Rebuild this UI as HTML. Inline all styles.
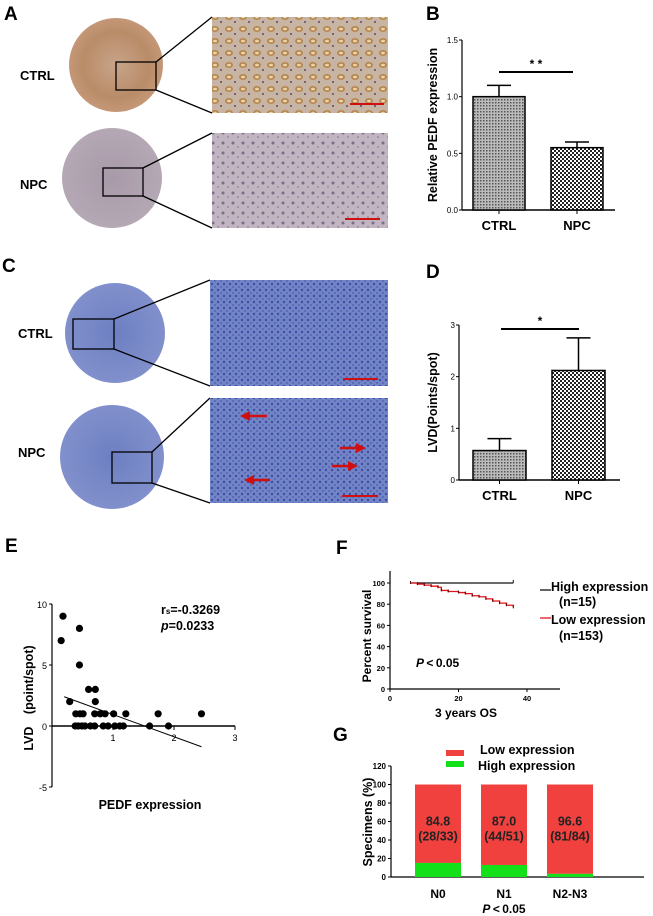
<!DOCTYPE html>
<html><head><meta charset="utf-8">
<style>
html,body{margin:0;padding:0;background:#fff;}
svg{display:block;font-family:"Liberation Sans",Arial,sans-serif;}
.b{font-weight:bold;}
</style></head>
<body>
<svg id="fig" width="653" height="916" viewBox="0 0 653 916" xmlns="http://www.w3.org/2000/svg">
<defs>
<pattern id="pCtrl" width="3" height="3" patternUnits="userSpaceOnUse"><rect width="3" height="3" fill="#bbb"/><rect width="1.5" height="1.5" fill="#555"/></pattern>
<pattern id="pNpc" width="4" height="4" patternUnits="userSpaceOnUse"><rect width="4" height="4" fill="#fff"/><rect width="2" height="2" fill="#222"/><rect x="2" y="2" width="2" height="2" fill="#222"/></pattern>
<radialGradient id="gBrown"><stop offset="0" stop-color="#c8a48a"/><stop offset="0.7" stop-color="#b98c68"/><stop offset="1" stop-color="#c49877"/></radialGradient>
<radialGradient id="gGray"><stop offset="0" stop-color="#a89aa8"/><stop offset="1" stop-color="#b5a8b5"/></radialGradient>
<radialGradient id="gBlue"><stop offset="0" stop-color="#6d7fc2"/><stop offset="1" stop-color="#8190cc"/></radialGradient>
<pattern id="tBrown" width="14" height="12" patternUnits="userSpaceOnUse"><rect width="14" height="12" fill="#c8b4a2"/><ellipse cx="5" cy="5" rx="4" ry="3" fill="#b88650"/><ellipse cx="5" cy="5" rx="2" ry="1.3" fill="#e8d5a8"/><circle cx="11" cy="10" r="1" fill="#5a4a6a"/></pattern>
<pattern id="tGray" width="10" height="10" patternUnits="userSpaceOnUse"><rect width="10" height="10" fill="#c2b5c2"/><circle cx="3" cy="3" r="1.5" fill="#7d6d87"/><circle cx="8" cy="7" r="1" fill="#9a8aa0"/></pattern>
<pattern id="tBlue" width="6" height="6" patternUnits="userSpaceOnUse"><rect width="6" height="6" fill="#7283c6"/><circle cx="2" cy="2" r="1.2" fill="#3a4ea8"/><circle cx="5" cy="5" r="0.9" fill="#4a5db0"/></pattern>
</defs>

<!-- Panel A -->
<g>
<text x="4" y="20" class="b" font-size="19">A</text>
<text x="20" y="80" class="b" font-size="13">CTRL</text>
<text x="20" y="189" class="b" font-size="13">NPC</text>
<circle cx="116" cy="65" r="47" fill="url(#gBrown)"/>
<rect x="116" y="62" width="40" height="28" fill="none" stroke="#000" stroke-width="1.3"/>
<line x1="156" y1="62" x2="212" y2="17" stroke="#000" stroke-width="1.3"/><line x1="156" y1="90" x2="212" y2="113" stroke="#000" stroke-width="1.3"/>
<rect x="212" y="17" width="176" height="96" fill="url(#tBrown)"/>
<line x1="350" y1="104" x2="384" y2="104" stroke="#d01010" stroke-width="2"/>
<circle cx="112" cy="178" r="50" fill="url(#gGray)"/>
<rect x="103" y="168" width="40" height="28" fill="none" stroke="#000" stroke-width="1.3"/>
<line x1="143" y1="168" x2="212" y2="133" stroke="#000" stroke-width="1.3"/><line x1="143" y1="196" x2="212" y2="228" stroke="#000" stroke-width="1.3"/>
<rect x="212" y="133" width="176" height="95" fill="url(#tGray)"/>
<line x1="345" y1="219" x2="380" y2="219" stroke="#d01010" stroke-width="2"/>
</g>

<!-- Panel C -->
<g>
<text x="2" y="272" class="b" font-size="19">C</text>
<text x="18" y="338" class="b" font-size="13">CTRL</text>
<text x="18" y="457" class="b" font-size="13">NPC</text>
<circle cx="115" cy="333" r="50" fill="url(#gBlue)"/>
<rect x="73" y="319" width="41" height="30" fill="none" stroke="#000" stroke-width="1.3"/>
<line x1="114" y1="319" x2="210" y2="280" stroke="#000" stroke-width="1.3"/><line x1="114" y1="349" x2="210" y2="386" stroke="#000" stroke-width="1.3"/>
<rect x="210" y="280" width="178" height="106" fill="url(#tBlue)"/>
<line x1="343" y1="379" x2="378" y2="379" stroke="#d01010" stroke-width="2"/>
<circle cx="112" cy="457" r="52" fill="url(#gBlue)"/>
<rect x="112" y="452" width="40" height="31" fill="none" stroke="#000" stroke-width="1.3"/>
<line x1="152" y1="452" x2="210" y2="398" stroke="#000" stroke-width="1.3"/><line x1="152" y1="483" x2="210" y2="503" stroke="#000" stroke-width="1.3"/>
<rect x="210" y="398" width="178" height="105" fill="url(#tBlue)"/>
<g fill="#d01010" stroke="#d01010" stroke-width="2.5">
<line x1="267" y1="416" x2="248" y2="416"/><polygon points="240,416 250,411 250,421" stroke="none"/>
<line x1="270" y1="480" x2="252" y2="480"/><polygon points="244,480 254,475 254,485" stroke="none"/>
<line x1="340" y1="448" x2="358" y2="448"/><polygon points="366,448 356,443 356,453" stroke="none"/>
<line x1="332" y1="466" x2="350" y2="466"/><polygon points="358,466 348,461 348,471" stroke="none"/>
</g>
<line x1="342" y1="496" x2="378" y2="496" stroke="#d01010" stroke-width="2"/>
</g>

<g id="charts"></g>
</svg>
<script>
// ---- Panel B data ----
const bCategories = ["CTRL", "NPC"];
const bValues = [1.0, 0.55];
const bErrors = [1.1, 0.6];
const bTicks = [0.0, 0.5, 1.0, 1.5];
// ---- Panel D data ----
const dCategories = ["CTRL", "NPC"];
const dValues = [0.57, 2.12];
const dErrors = [0.8, 2.75];
const dTicks = [0, 1, 2, 3];
// ---- Panel E data ----
const eX = [0.15,0.18,0.45,0.45,0.29,0.6,0.71,0.71,0.39,0.46,0.51,0.70,0.79,0.87,1.01,1.21,1.74,2.45,0.38,0.43,0.49,0.54,0.63,0.70,0.84,0.92,1.03,1.11,1.17,1.6,1.91];
const eY = [7,9,8,5,2,3,3,2,1,1,1,1,1,1,1,1,1,1,0,0,0,0,0,0,0,0,0,0,0,0,0];
const eFitX = [0.2, 2.45];
const eFitY = [2.4, -1.7];
const eXTicks = [1, 2, 3];
const eYTicks = [-5, 0, 5, 10];
// ---- Panel F data ----
const fHighT = [6, 36];
const fHighS = [100, 100];
const fLowT = [6,8,10,12,14,15,17,20,22,24,26,28,30,32,34,36];
const fLowS = [100,99,98,97,96,93,92,91,90,88,87,85,83,81,79,77];
const fXTicks = [0, 20, 40];
const fYTicks = [0, 20, 40, 60, 80, 100];
// ---- Panel G data ----
const gCategories = ["N0", "N1", "N2-N3"];
const gHigh = [15.2, 13.0, 3.4];
const gLow = [84.8, 87.0, 96.6];
const gLabels = ["(28/33)", "(44/51)", "(81/84)"];
const gYTicks = [0, 20, 40, 60, 80, 100, 120];

const NS = "http://www.w3.org/2000/svg";
const root = document.getElementById("charts");
function mk(tag, attrs, parent, text) {
  const e = document.createElementNS(NS, tag);
  for (const k in attrs) e.setAttribute(k, attrs[k]);
  if (text !== undefined) e.textContent = text;
  (parent || root).appendChild(e);
  return e;
}
function lin(d0, d1, r0, r1) { return v => r0 + (v - d0) * (r1 - r0) / (d1 - d0); }

// Bar chart (B, D)
function barPanel(o) {
  const g = mk("g", {});
  
  
  const y = lin(o.ymin, o.ymax, o.y0, o.y1);
  const lt = mk("text", {x: o.lx, y: o.ly, "font-size": 19, "font-weight": "bold"}, g, o.letter);
  
  
  mk("line", {x1: o.ax, y1: y(o.ymax), x2: o.ax, y2: o.y0, stroke: "#000", "stroke-width": 1.2}, g);
  mk("line", {x1: o.ax, y1: o.y0, x2: o.axEnd, y2: o.y0, stroke: "#000", "stroke-width": 1.5}, g);
  o.ticks.forEach(t => {
    mk("line", {x1: o.ax - 3, y1: y(t), x2: o.ax, y2: y(t), stroke: "#000"}, g);
    const tt = mk("text", {x: o.ax - 4, y: y(t) + 3, "font-size": 8, "text-anchor": "end", transform: `scale(1,1)`}, g, o.tickFmt(t));
    
    
  });
  const yt = mk("text", {x: 0, y: 0, "font-size": 12.5, "font-weight": "bold", "text-anchor": "middle", transform: `translate(${o.titleX},${(o.y0 + y(o.ymax)) / 2}) rotate(-90)`}, g, o.title);
  
  
  o.cats.forEach((c, i) => {
    const x0 = o.barX[i], w = o.barW;
    const top = y(o.vals[i]);
    mk("line", {x1: x0 + w / 2, y1: top, x2: x0 + w / 2, y2: y(o.errs[i]), stroke: "#000", "stroke-width": 1.5}, g);
    mk("line", {x1: x0 + w / 2 - 12, y1: y(o.errs[i]), x2: x0 + w / 2 + 12, y2: y(o.errs[i]), stroke: "#000", "stroke-width": 1.5}, g);
    const r = mk("rect", {x: x0, y: top, width: w, height: o.y0 - top, fill: i === 0 ? "url(#pCtrl)" : "url(#pNpc)", stroke: "#000", "stroke-width": 1.5}, g);
    
    
    mk("line", {x1: x0 + w / 2, y1: o.y0, x2: x0 + w / 2, y2: o.y0 + 4, stroke: "#000"}, g);
    const xl = mk("text", {x: x0 + w / 2, y: o.y0 + 20, "font-size": 13, "font-weight": "bold", "text-anchor": "middle"}, g, c);
    
    
  });
  mk("line", {x1: o.sig[0], y1: o.sig[2], x2: o.sig[1], y2: o.sig[2], stroke: "#000", "stroke-width": 2}, g);
  const st = mk("text", {x: (o.sig[0] + o.sig[1]) / 2, y: o.sig[2] - 4, "font-size": 12, "font-weight": "bold", "text-anchor": "middle"}, g, o.star);
  
  
}
barPanel({name: "panel-b", letter: "B", lx: 426, ly: 20, cats: bCategories, vals: bValues, errs: bErrors, ticks: bTicks,
  tickFmt: t => t.toFixed(1), ymin: 0, ymax: 1.5, y0: 210, y1: 40, ax: 462, axEnd: 615, barX: [473, 551], barW: 52,
  title: "Relative PEDF expression", titleX: 437, sig: [499, 573, 72], star: "* *"});
barPanel({name: "panel-d", letter: "D", lx: 426, ly: 278, cats: dCategories, vals: dValues, errs: dErrors, ticks: dTicks,
  tickFmt: t => String(t), ymin: 0, ymax: 3, y0: 480, y1: 325, ax: 459, axEnd: 620, barX: [473, 552], barW: 53,
  title: "LVD(Points/spot)", titleX: 437, sig: [501, 579, 329], star: "*"});

// Panel E scatter
(function () {
  const g = mk("g", {});
  
  
  const x = lin(0, 3, 52, 235), y = lin(0, 10, 726, 604);
  const lt = mk("text", {x: 5, y: 552, "font-size": 19, "font-weight": "bold"}, g, "E");
  
  
  mk("line", {x1: 52, y1: y(10), x2: 52, y2: y(-5), stroke: "#000", "stroke-width": 1.2}, g);
  mk("line", {x1: 52, y1: y(0), x2: x(3), y2: y(0), stroke: "#000", "stroke-width": 1.5}, g);
  eYTicks.forEach(t => {
    mk("line", {x1: 49, y1: y(t), x2: 52, y2: y(t), stroke: "#000"}, g);
    const tt = mk("text", {x: 47, y: y(t) + 4, "font-size": 9, "text-anchor": "end"}, g, String(t));
    
    
  });
  eXTicks.forEach(t => {
    mk("line", {x1: x(t), y1: y(0), x2: x(t), y2: y(0) + 4, stroke: "#000"}, g);
    const tt = mk("text", {x: x(t), y: y(0) + 15, "font-size": 9, "text-anchor": "middle"}, g, String(t));
    
    
  });
  eX.forEach((v, i) => {
    const c = mk("circle", {cx: x(v), cy: y(eY[i]), r: 3.6, fill: "#000"}, g);
    
    
  });
  const fl = mk("line", {x1: x(eFitX[0]), y1: y(eFitY[0]), x2: x(eFitX[1]), y2: y(eFitY[1]), stroke: "#000", "stroke-width": 1}, g);
  
  
  const s1 = mk("text", {x: 161, y: 614, "font-size": 12.5, "font-weight": "bold"}, g);
  
  
  mk("tspan", {}, s1, "r");
  mk("tspan", {"font-size": 8}, s1, "s");
  mk("tspan", {}, s1, "=-0.3269");
  const s2 = mk("text", {x: 161, y: 630, "font-size": 12.5, "font-weight": "bold"}, g);
  
  
  mk("tspan", {"font-style": "italic"}, s2, "p");
  mk("tspan", {}, s2, "=0.0233");
  const yt = mk("text", {"font-size": 12.5, "font-weight": "bold", "text-anchor": "middle", transform: "translate(33,698) rotate(-90)"}, g, "LVD\u3000(point/spot)");
  
  
  const xt = mk("text", {x: 150, y: 809, "font-size": 12.5, "font-weight": "bold", "text-anchor": "middle"}, g, "PEDF expression");
  
  
})();

// Panel F KM
(function () {
  const g = mk("g", {});
  
  
  const x = lin(0, 40, 390, 527), y = lin(0, 100, 689, 583);
  const lt = mk("text", {x: 336, y: 554, "font-size": 19, "font-weight": "bold"}, g, "F");
  
  
  mk("line", {x1: 390, y1: 571, x2: 390, y2: 689, stroke: "#000", "stroke-width": 1.2}, g);
  mk("line", {x1: 390, y1: 689, x2: 560, y2: 689, stroke: "#000", "stroke-width": 1.2}, g);
  fYTicks.forEach(t => {
    mk("line", {x1: 387, y1: y(t), x2: 390, y2: y(t), stroke: "#000"}, g);
    const tt = mk("text", {x: 385, y: y(t) + 3, "font-size": 7.5, "font-weight": "bold", "text-anchor": "end"}, g, String(t));
    
    
  });
  fXTicks.forEach(t => {
    mk("line", {x1: x(t), y1: 689, x2: x(t), y2: 692, stroke: "#000"}, g);
    const tt = mk("text", {x: x(t), y: 701, "font-size": 7.5, "font-weight": "bold", "text-anchor": "middle"}, g, String(t));
    
    
  });
  function step(T, S) {
    let d = `M${x(T[0])},${y(S[0])}`;
    for (let i = 1; i < T.length; i++) d += ` H${x(T[i])} V${y(S[i])}`;
    return d;
  }
  const hp = mk("path", {d: step(fHighT, fHighS), fill: "none", stroke: "#111", "stroke-width": 1.3}, g);
  
  
  const lp = mk("path", {d: step(fLowT, fLowS), fill: "none", stroke: "#e0141e", "stroke-width": 1.3}, g);
  
  
  fLowT.forEach((t, i) => mk("line", {x1: x(t), y1: y(fLowS[i]) - 2, x2: x(t), y2: y(fLowS[i]) + 1, stroke: "#600"}, g));
  mk("line", {x1: x(36), y1: y(100) - 3, x2: x(36), y2: y(100), stroke: "#111"}, g);
  const yt = mk("text", {"font-size": 12, "font-weight": "bold", "text-anchor": "middle", transform: "translate(371,636) rotate(-90)"}, g, "Percent survival");
  
  
  const xt = mk("text", {x: 466, y: 717, "font-size": 12, "font-weight": "bold", "text-anchor": "middle"}, g, "3 years  OS");
  
  
  const pv = mk("text", {x: 416, y: 667, "font-size": 12, "font-weight": "bold"}, g);
  
  
  mk("tspan", {"font-style": "italic"}, pv, "P");
  mk("tspan", {}, pv, "\u2009<\u20090.05");
  const l1 = mk("g", {}, g);
  
  
  mk("line", {x1: 540, y1: 590, x2: 551, y2: 590, stroke: "#111", "stroke-width": 1.3}, l1);
  mk("text", {x: 551, y: 591, "font-size": 12.5, "font-weight": "bold"}, l1, "High expression");
  mk("text", {x: 559, y: 606, "font-size": 12.5, "font-weight": "bold"}, l1, "(n=15)");
  const l2 = mk("g", {}, g);
  
  
  mk("line", {x1: 540, y1: 618, x2: 551, y2: 618, stroke: "#e0141e", "stroke-width": 1.3}, l2);
  mk("text", {x: 551, y: 624, "font-size": 12.5, "font-weight": "bold"}, l2, "Low expression");
  mk("text", {x: 559, y: 640, "font-size": 12.5, "font-weight": "bold"}, l2, "(n=153)");
})();

// Panel G stacked bars
(function () {
  const g = mk("g", {});
  
  
  const y = lin(0, 120, 877, 766);
  const barX = [415, 481, 547], w = 46;
  const lt = mk("text", {x: 333, y: 741, "font-size": 19, "font-weight": "bold"}, g, "G");
  
  
  mk("line", {x1: 391, y1: y(120), x2: 391, y2: 877, stroke: "#000", "stroke-width": 1.2}, g);
  mk("line", {x1: 391, y1: 877, x2: 644, y2: 877, stroke: "#000", "stroke-width": 1.2}, g);
  gYTicks.forEach(t => {
    mk("line", {x1: 388, y1: y(t), x2: 391, y2: y(t), stroke: "#000"}, g);
    const tt = mk("text", {x: 386, y: y(t) + 3, "font-size": 8, "font-weight": "bold", "text-anchor": "end"}, g, String(t));
    
    
  });
  gCategories.forEach((c, i) => {
    const hTop = y(gHigh[i]), lTop = y(gHigh[i] + gLow[i]);
    const rl = mk("rect", {x: barX[i], y: lTop, width: w, height: hTop - lTop, fill: "#f0413f"}, g);
    
    
    const rh = mk("rect", {x: barX[i], y: hTop, width: w, height: 877 - hTop, fill: "#14e01a"}, g);
    
    
    const v = mk("text", {x: barX[i] + w / 2, y: y(60) + 4, "font-size": 12.5, "font-weight": "bold", "text-anchor": "middle", fill: "#222"}, g, gLow[i].toFixed(1));
    
    
    const f = mk("text", {x: barX[i] + w / 2, y: y(60) + 19, "font-size": 12.5, "font-weight": "bold", "text-anchor": "middle", fill: "#222"}, g, gLabels[i]);
    
    
    const xl = mk("text", {x: barX[i] + w / 2, y: 898, "font-size": 12, "font-weight": "bold", "text-anchor": "middle"}, g, c);
    
    
  });
  const yt = mk("text", {"font-size": 12.5, "font-weight": "bold", "text-anchor": "middle", transform: "translate(372,822) rotate(-90)"}, g, "Specimens (%)");
  
  
  const pv = mk("text", {x: 504, y: 913, "font-size": 12, "font-weight": "bold", "text-anchor": "middle"}, g);
  
  
  mk("tspan", {"font-style": "italic"}, pv, "P");
  mk("tspan", {}, pv, "\u2009<\u20090.05");
  const l1 = mk("g", {}, g);
  
  
  mk("rect", {x: 446, y: 750, width: 18, height: 6, fill: "#f0413f"}, l1);
  mk("text", {x: 480, y: 754, "font-size": 12.5, "font-weight": "bold"}, l1, "Low expression");
  const l2 = mk("g", {}, g);
  
  
  mk("rect", {x: 446, y: 761, width: 18, height: 6, fill: "#14e01a"}, l2);
  mk("text", {x: 478, y: 770, "font-size": 12.5, "font-weight": "bold"}, l2, "High expression");
})();
</script>
</body></html>
